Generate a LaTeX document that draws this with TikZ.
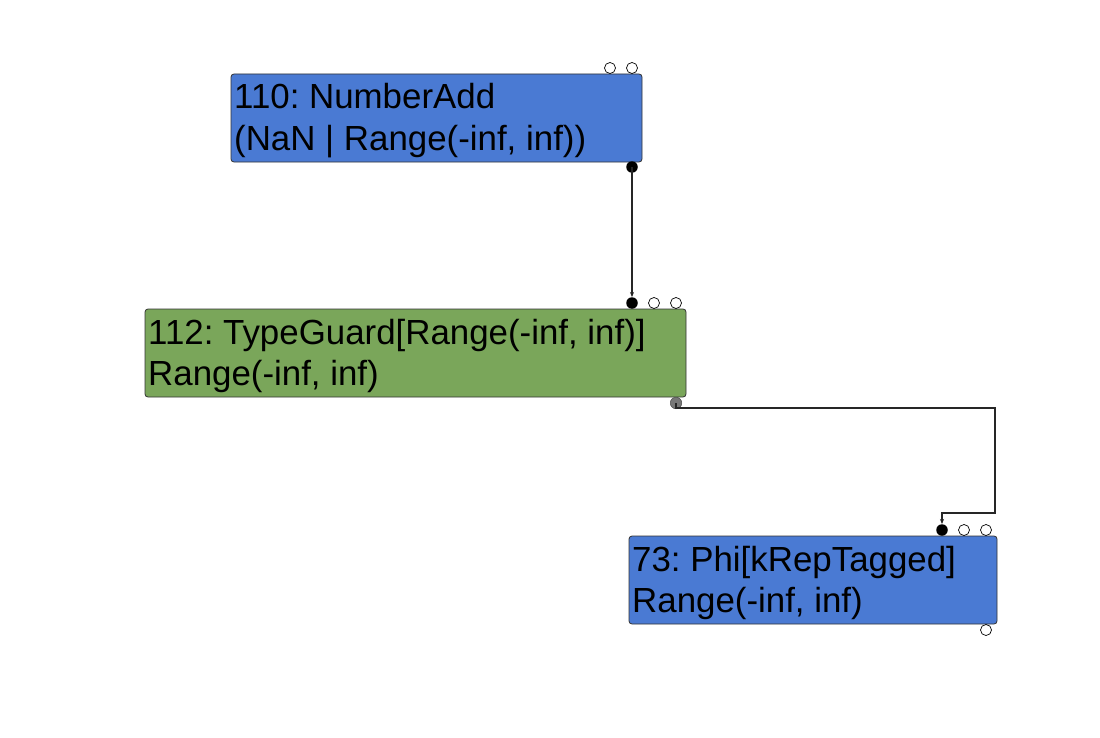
\documentclass[tikz,border=0pt]{standalone}
\usepackage{fontspec}
\setmainfont{Liberation Sans}
\usetikzlibrary{arrows.meta}
\definecolor{nodeblue}{HTML}{4A7AD3}
\definecolor{nodegreen}{HTML}{7AA65A}
\definecolor{dotgray}{HTML}{777777}
\frenchspacing
\begin{document}
\begin{tikzpicture}[x=1bp,y=-1bp,
  nodebox/.style={draw=black!80, line width=0.8bp, rounded corners=3bp},
  lbl/.style={anchor=base west, inner sep=0pt, font=\fontsize{35}{40}\selectfont},
  opendot/.style={circle, draw=black, fill=white, line width=0.7bp, inner sep=0pt, minimum size=11bp},
  filldot/.style={circle, fill=black, inner sep=0pt, minimum size=11.5bp},
  graydot/.style={circle, fill=dotgray, draw=black!70, line width=0.5bp, inner sep=0pt, minimum size=11.5bp},
  wire/.style={line width=1.5bp, draw=black!85},
  tip/.style={-{Stealth[length=5bp,width=4bp]}}
]
\useasboundingbox (0,0) rectangle (1100,738);
\fill[white] (0,0) rectangle (1100,738);

% Box 110
\path[nodebox, fill=nodeblue] (231,74) rectangle (642,162);
\node[lbl] (t110a) at (234,109) {110: NumberAdd};
\node[lbl] (t110b) at (234,150) {(NaN | Range(-inf, inf))};
\node[opendot] (a1) at (610,68) {};
\node[opendot] (a2) at (632,68) {};
\node[filldot] (aout) at (632,167) {};

% Box 112
\path[nodebox, fill=nodegreen] (145,309) rectangle (686,397);
\node[lbl] (t112a) at (148,344) {112: TypeGuard[Range(-inf, inf)]};
\node[lbl] (t112b) at (148,385) {Range(-inf, inf)};
\node[filldot] (bin) at (632,303) {};
\node[opendot] (b2) at (654,303) {};
\node[opendot] (b3) at (676,303) {};
\node[graydot] (bout) at (676,403) {};

% Box 73
\path[nodebox, fill=nodeblue] (629,536) rectangle (997,624);
\node[lbl] (t73a) at (632,571) {73: Phi[kRepTagged]};
\node[lbl] (t73b) at (632,612) {Range(-inf, inf)};
\node[filldot] (cin) at (942,530) {};
\node[opendot] (c2) at (964,530) {};
\node[opendot] (c3) at (986,530) {};
\node[opendot] (cout) at (986,630) {};

% Edges
\draw[wire, tip] (aout.center) -- (bin.north);
\draw[wire, tip] (bout.center) |- (995,408) -- (995,513) -| (cin.north);
\end{tikzpicture}
\end{document}
